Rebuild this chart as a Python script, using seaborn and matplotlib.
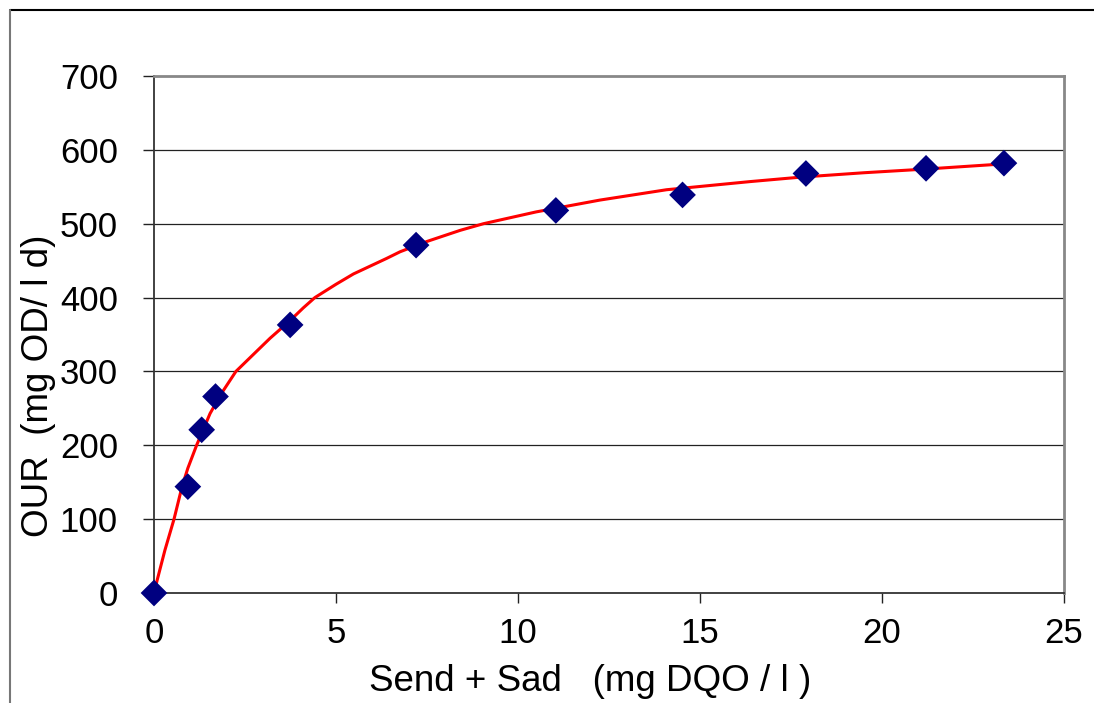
import matplotlib
matplotlib.use("Agg")
import matplotlib.pyplot as plt
from matplotlib.lines import Line2D
import seaborn as sns
import pandas as pd

# measured points
s_values = [0, 0.93, 1.31, 1.69, 3.74, 7.2, 11.04, 14.52, 17.91, 21.21, 23.35]
our_values = [0, 144, 221, 266, 363, 471, 518, 539, 568, 575, 582]

# fitted curve
curve_s = [0, 0.09, 0.3, 0.55, 0.77, 0.93, 1.17, 1.54, 1.85, 2.25, 2.73,
           3.19, 3.72, 4.1, 4.42, 5.0, 5.48, 6.39, 6.76, 7.5, 8.41, 9.05,
           10.5, 12.25, 14.08, 16.37, 17.75, 19.5, 21.2, 23.35]
curve_our = [0, 18, 58, 100, 144, 169, 200, 243, 270, 300, 323,
             345, 368, 386, 400, 418, 432, 453, 462, 476, 491, 500,
             516, 532, 546, 557, 563, 569, 574, 581]

x_ticks = [0, 5, 10, 15, 20, 25]
y_ticks = [0, 100, 200, 300, 400, 500, 600, 700]
x_label = "Send + Sad   (mg DQO / l )"
y_label = "OUR  (mg OD/ l d)"

sns.set_style("white")
plt.rcParams['font.family'] = ['Liberation Sans', 'DejaVu Sans']
plt.rcParams['text.color'] = 'black'
plt.rcParams['axes.labelcolor'] = 'black'
plt.rcParams['xtick.color'] = 'black'
plt.rcParams['ytick.color'] = 'black'

fig = plt.figure(figsize=(10.94, 7.03), dpi=100)
ax = fig.add_axes([154 / 1094, 1 - 593 / 703, 910 / 1094, 517 / 703])

# outer chart frame (top and left only visible)
fig.add_artist(Line2D([10 / 1094, 1.0], [1 - 10 / 703, 1 - 10 / 703],
                      transform=fig.transFigure, color='black', lw=1.5))
fig.add_artist(Line2D([10 / 1094, 10 / 1094], [1 - 10 / 703, 0],
                      transform=fig.transFigure, color='#777777', lw=1.5))

pts = pd.DataFrame({"s": s_values, "our": our_values})
curve = pd.DataFrame({"s": curve_s, "our": curve_our})

for yv in y_ticks[1:-1]:
    ax.axhline(yv, color='#222222', lw=0.9, zorder=1)

sns.lineplot(data=curve, x="s", y="our", ax=ax, color='#ff0000', lw=2.2,
             sort=False, zorder=3)
sns.scatterplot(data=pts, x="s", y="our", ax=ax, marker='D', s=185,
                color='#000080', edgecolor='none', linewidth=0, zorder=4,
                clip_on=False)

ax.set_xlim(0, 25)
ax.set_ylim(0, 700)
ax.set_xticks(x_ticks)
ax.set_yticks(y_ticks)
ax.set_xticklabels([str(v) for v in x_ticks])
ax.set_yticklabels([str(v) for v in y_ticks])

ax.tick_params(axis='y', direction='out', length=8, width=1.0, color='#222222',
               pad=18, labelsize=25, left=True)
ax.tick_params(axis='x', direction='out', length=7, width=1.0, color='#222222',
               pad=10, labelsize=25, bottom=True)

for side in ['top', 'right']:
    ax.spines[side].set_color('#888888')
    ax.spines[side].set_linewidth(2.0)
ax.spines['left'].set_color('#333333')
ax.spines['left'].set_linewidth(1.3)
ax.spines['bottom'].set_color('#333333')
ax.spines['bottom'].set_linewidth(1.3)

ax.set_xlabel(x_label, fontsize=26.5, va='center')
ax.set_ylabel(y_label, fontsize=26.5, va='center')
ax.xaxis.set_label_coords(0.479, -0.172)
ax.yaxis.set_label_coords(-0.127, 0.40)

fig.savefig("out.png", dpi=100)
